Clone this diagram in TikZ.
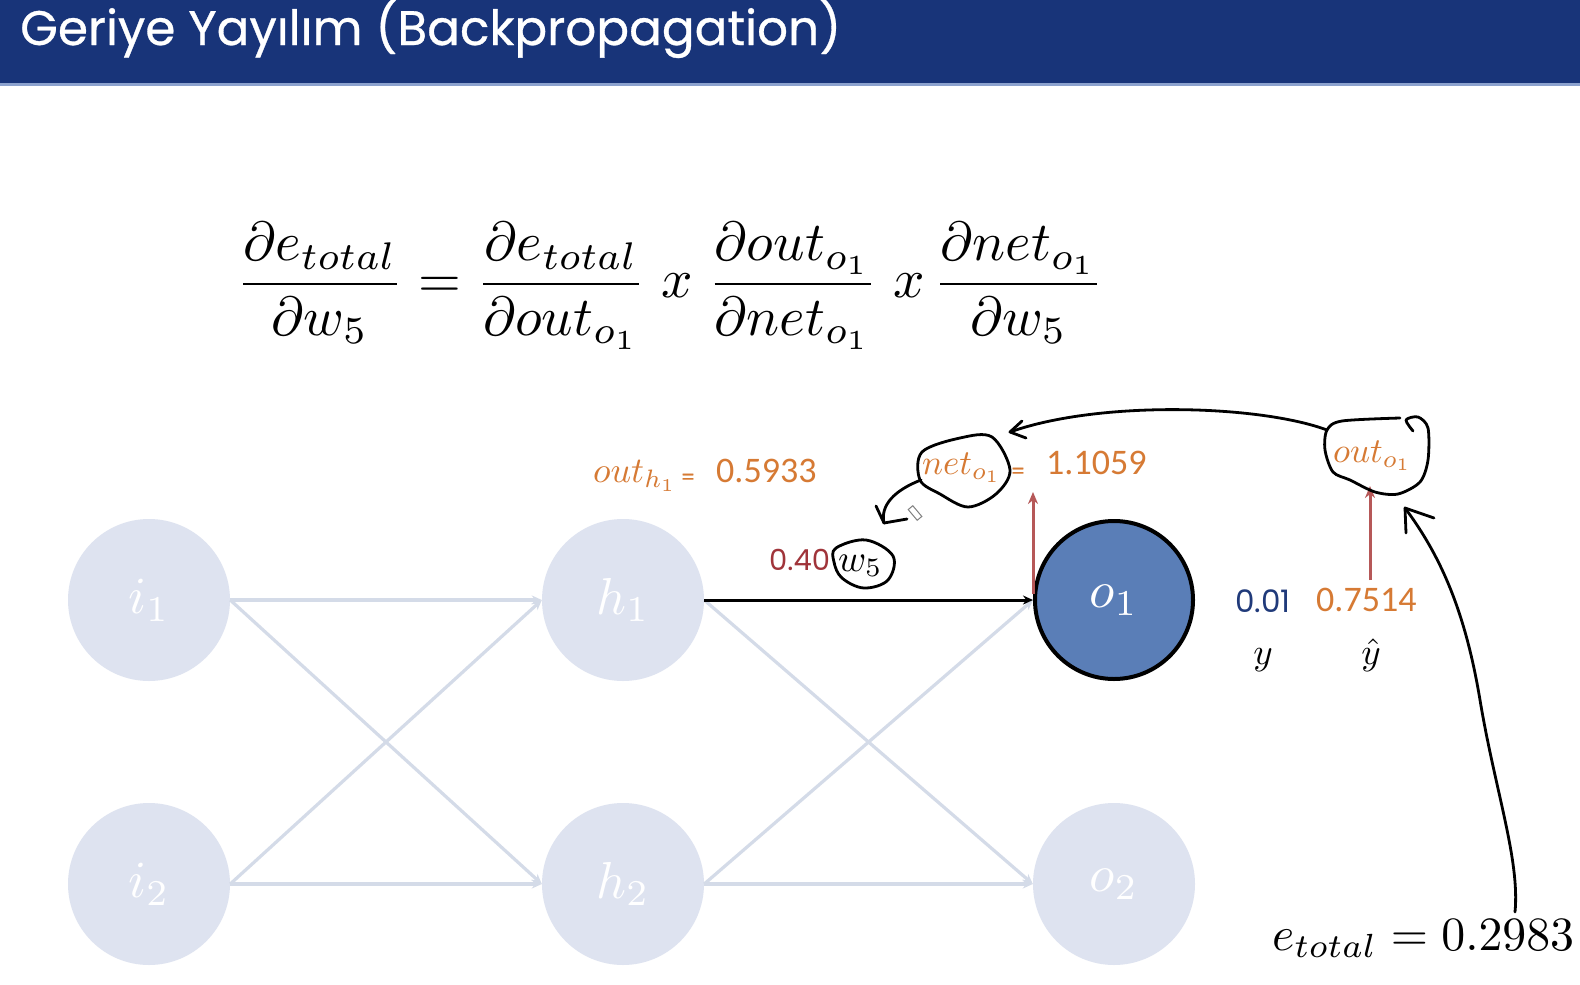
\documentclass[tikz,border=0pt]{standalone}
\usepackage{fontspec}
\newfontfamily\titlefont{Poppins}[FakeBold=0.6]
\newfontfamily\roundfont{Poppins}
\newfontfamily\numfont{Carlito}
\usetikzlibrary{arrows.meta}

\definecolor{barblue}{RGB}{24,52,121}
\definecolor{barline}{RGB}{140,162,206}
\definecolor{nodefill}{RGB}{222,227,240}
\definecolor{edgecol}{RGB}{212,219,232}
\definecolor{outfill}{RGB}{90,126,183}
\definecolor{orangetxt}{RGB}{214,122,52}
\definecolor{weightred}{RGB}{160,52,58}
\definecolor{arrowred}{RGB}{182,88,88}
\definecolor{navytxt}{RGB}{32,58,122}

% math is set at 10pt and scaled up
\newcommand{\bigmath}[2]{\scalebox{#1}{$#2$}}

\tikzset{
  neuron/.style={circle, minimum size=162pt, inner sep=0pt, fill=nodefill, text=white},
  netedge/.style={draw=edgecol, line width=3.2pt, -{Stealth[length=10pt,width=9pt]}},
  activeedge/.style={draw=black, line width=3pt, -{Stealth[length=10pt,width=9pt]}},
  redarrow/.style={draw=arrowred, line width=3pt, -{Stealth[length=12pt,width=10pt]}},
  hand/.style={draw=black, line width=2.8pt, line cap=round, line join=round},
  mathlbl/.style={inner sep=0pt, anchor=base west},
  numlbl/.style={inner sep=0pt, anchor=base west, font=\numfont\fontsize{36}{40}\selectfont},
  roundnum/.style={inner sep=0pt, anchor=base west, font=\roundfont\fontsize{29}{34}\selectfont},
}

\begin{document}
\begin{tikzpicture}[x=1pt,y=-1pt]
\useasboundingbox (0,0) rectangle (1580,985);
\fill[white] (0,0) rectangle (1580,985);

% title bar
\fill[barblue] (0,0) rectangle (1580,83);
\fill[barline] (0,83) rectangle (1580,86);
\node[inner sep=0pt, anchor=base west, text=white, font=\titlefont\fontsize{48.5}{52}\selectfont]
  (title) at (20,45) {Geriye Yayılım (Backpropagation)};

% chain rule
\node[inner sep=0pt] (chain) at (670,286)
  {\bigmath{5.5}{\displaystyle \frac{\partial e_{total}}{\partial w_5} = \frac{\partial e_{total}}{\partial out_{o_1}}\;x\;\frac{\partial out_{o_1}}{\partial net_{o_1}}\;x\,\frac{\partial net_{o_1}}{\partial w_5}}};

% neurons
\node[neuron] (i1) at (149,600) {\bigmath{5.2}{i_1}};
\node[neuron] (i2) at (149,884) {\bigmath{5.2}{i_2}};
\node[neuron] (h1) at (623,600) {\bigmath{5.2}{h_1}};
\node[neuron] (h2) at (623,884) {\bigmath{5.2}{h_2}};
\node[neuron, fill=outfill, draw=black, line width=4pt, minimum size=158pt] (o1) at (1114,600) {\bigmath{5.2}{o_1}};
\node[neuron] (o2) at (1114,884) {\bigmath{5.2}{o_2}};

% connections
\draw[netedge] (i1.east) -- (h1.west);
\draw[netedge] (i1.east) -- (h2.west);
\draw[netedge] (i2.east) -- (h1.west);
\draw[netedge] (i2.east) -- (h2.west);
\draw[netedge] (h1.east) -- (o2.west);
\draw[netedge] (h2.east) -- (o1.west);
\draw[netedge] (h2.east) -- (o2.west);
\draw[activeedge] (h1.east) -- (o1.west);

% values
\node[mathlbl, text=orangetxt] (outh) at (593,482) {\bigmath{3.6}{out_{h_1}}};
\node[inner sep=0pt, anchor=base, text=orangetxt, font=\titlefont\fontsize{20}{24}\selectfont] (outheq) at (688,484) {=};
\node[numlbl, text=orangetxt] (outhval) at (716,482) {0.5933};

\node[mathlbl, text=orangetxt] (neto) at (922,474) {\bigmath{3.5}{net_{o_1}}};
\node[inner sep=0pt, anchor=base, text=orangetxt, font=\titlefont\fontsize{20}{24}\selectfont] (netoeq) at (1018,478) {=};
\node[numlbl, text=orangetxt] (netoval) at (1046,474) {1.1059};

\node[roundnum, text=weightred] (wval) at (769,570) {0.40};
\node[mathlbl] (w5) at (838,571) {\bigmath{3.8}{w_5}};

\node[mathlbl, text=orangetxt] (outo) at (1333,462) {\bigmath{3.5}{out_{o_1}}};

\node[roundnum, text=navytxt, font=\roundfont\fontsize{31}{34}\selectfont] (yval) at (1235,612) {0.01};
\node[numlbl, text=orangetxt] (yhatval) at (1316,611) {0.7514};
\node[inner sep=0pt, anchor=base] (ylbl) at (1263,664) {\bigmath{3.7}{y}};
\node[inner sep=0pt, anchor=base] (yhatlbl) at (1371,664) {\bigmath{3.7}{\hat{y}}};

\node[inner sep=0pt, anchor=base west] (etot) at (1272,950) {\bigmath{4.78}{e_{total} = 0.2983}};

% red arrows
\coordinate (netfoot) at (1033,594);
\coordinate (nettop) at (1033,492);
\draw[redarrow] (netfoot) -- (nettop);
\coordinate (outfoot) at (1370,580);
\coordinate (outtop) at (1370,486);
\draw[redarrow] (outfoot) -- (outtop);

% hand-drawn marks
\draw[hand] plot[smooth cycle, tension=0.55] coordinates
  {(922,452) (960,438) (992,437) (1010,470) (996,494) (968,507) (940,494) (920,480)};
\draw[hand] (921,480) .. controls (895,490) and (880,505) .. (884,523);
\draw[hand] (876,506) -- (884,523) -- (907,519);
\draw[gray, line width=1pt, rotate around={-50:(915,513)}] (908,510) rectangle (922,516);

\draw[hand] plot[smooth cycle, tension=0.6] coordinates
  {(836,548) (866,540) (893,556) (888,580) (864,588) (842,578) (834,562)};

\draw[hand] plot[smooth, tension=0.5] coordinates
  {(1413,431) (1406,420) (1418,417) (1428,428) (1428,460) (1420,482) (1398,494) (1375,492) (1350,480) (1333,472) (1325,450) (1327,430) (1342,421) (1400,418)};
\draw[hand] (1327,430) .. controls (1260,405) and (1100,400) .. (1010,432);
\draw[hand] (1022,421) -- (1010,432) -- (1026,438);

\draw[hand] (1515,912) .. controls (1520,860) and (1495,790) .. (1480,700)
  .. controls (1465,610) and (1440,555) .. (1405,508);
\draw[hand] (1434,518) -- (1405,508) -- (1406,533);
\end{tikzpicture}
\end{document}
